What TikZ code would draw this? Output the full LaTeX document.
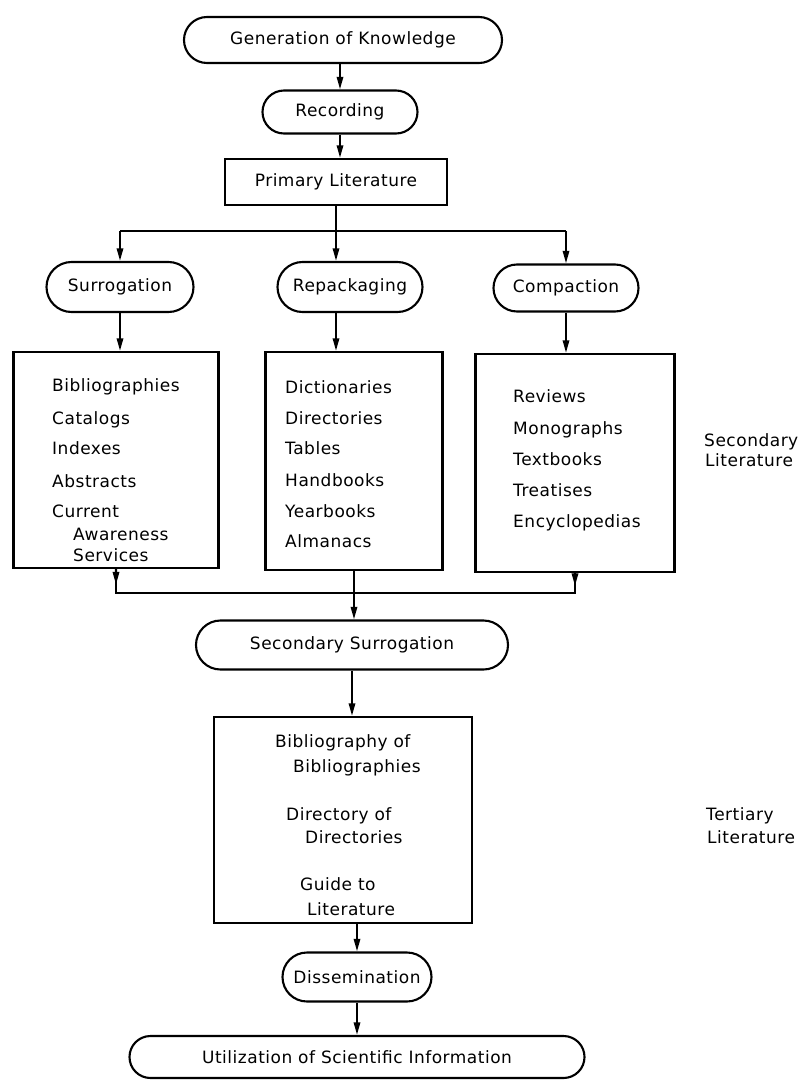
\documentclass[tikz,border=0pt]{standalone}
\usepackage{fontspec}
\setmainfont{DejaVu Sans}[LetterSpace=3]
\usetikzlibrary{shapes.misc,arrows.meta,calc}
\tikzset{
  stadium/.style={draw, line width=1.8pt, rounded rectangle, inner sep=0pt},
  litbox/.style={draw, line width=1.8pt, rectangle, inner sep=0pt},
  item/.style={anchor=base west, inner sep=0pt},
  flow/.style={line width=1.8pt, -{Triangle[length=3.8mm,width=1.9mm]}},
  link/.style={line width=1.8pt},
}
\begin{document}
\begin{tikzpicture}[x=0.03cm, y=-0.03cm, font=\fontsize{14.5}{17}\selectfont]
  \useasboundingbox (0,0) rectangle (801,1080);

  \node[stadium, minimum width=9.54cm, minimum height=1.38cm] (gen) at (343,40) {Generation of Knowledge};
  \node[stadium, minimum width=4.65cm, minimum height=1.29cm] (rec) at (340,112) {Recording};
  \node[litbox, minimum width=6.66cm, minimum height=1.38cm] (prim) at (336,182) {Primary Literature};

  \node[stadium, minimum width=4.41cm, minimum height=1.5cm] (sur) at (120,287) {Surrogation};
  \node[stadium, minimum width=4.35cm, minimum height=1.5cm] (rep) at (350,287) {Repackaging};
  \node[stadium, minimum width=4.35cm, minimum height=1.41cm] (com) at (566,288) {Compaction};

  \node[litbox, minimum width=6.15cm, minimum height=6.48cm] (surbox) at (116,460) {};
  \node[litbox, minimum width=5.31cm, minimum height=6.54cm] (repbox) at (354,461) {};
  \node[litbox, minimum width=5.97cm, minimum height=6.54cm] (combox) at (575,463) {};

  \node[stadium, minimum width=9.36cm, minimum height=1.47cm] (ssur) at (352,645) {Secondary Surrogation};
  \node[litbox, minimum width=7.74cm, minimum height=6.18cm] (terbox) at (343,820) {};
  \node[stadium, minimum width=4.47cm, minimum height=1.47cm] (dis) at (357,977) {Dissemination};
  \node[stadium, minimum width=13.65cm, minimum height=1.26cm] (uti) at (357,1057) {Utilization of Scientific Information};

  \foreach \txt/\yy [count=\i] in {Bibliographies/391, Catalogs/424, Indexes/454, Abstracts/487, Current/517}
    \node[item] (sur-\i) at (52,\yy) {\txt};
  \node[item] (sur-aw) at (73,540) {Awareness};
  \node[item] (sur-sv) at (73,561) {Services};

  \foreach \txt/\yy [count=\i] in {Dictionaries/393, Directories/424, Tables/454, Handbooks/486, Yearbooks/517, Almanacs/547}
    \node[item] (rep-\i) at (285,\yy) {\txt};

  \foreach \txt/\yy [count=\i] in {Reviews/402, Monographs/434, Textbooks/465, Treatises/496, Encyclopedias/527}
    \node[item] (com-\i) at (513,\yy) {\txt};

  \node[item] (ter-1) at (275,747) {Bibliography of};
  \node[item] (ter-2) at (293,772) {Bibliographies};
  \node[item] (ter-3) at (286,820) {Directory of};
  \node[item] (ter-4) at (305,843) {Directories};
  \node[item] (ter-5) at (300,890) {Guide to};
  \node[item] (ter-6) at (307,915) {Literature};

  \node[item] (seclit) at (704,446) {Secondary};
  \node[item] (seclit2) at (705,466) {Literature};
  \node[item] (terlit) at (706,820) {Tertiary};
  \node[item] (terlit2) at (707,843) {Literature};

  \coordinate (jt) at (342,231);
  \coordinate (jb) at (352,593);

  \draw[flow] (rec.north |- gen.south) -- (rec.north);
  \draw[flow] (rec.south) -- (rec.south |- prim.north);
  \draw[link] (sur.north |- jt) -- (com.north |- jt);
  \draw[flow] (prim.south) -- (prim.south |- rep.north);
  \draw[flow] (sur.north |- jt) -- (sur.north);
  \draw[flow] (com.north |- jt) -- (com.north);

  \draw[flow] (sur.south) -- (sur.south |- surbox.north);
  \draw[flow] (rep.south -| prim.south) -- (repbox.north -| prim.south);
  \draw[flow] (com.south) -- (com.south |- combox.north);

  \draw[link] (surbox.south) -- (surbox.south |- jb) -- (combox.south |- jb) -- (combox.south);
  \draw[flow] (surbox.south) -- ($(surbox.south)!0.65!(surbox.south |- jb)$);
  \draw[flow] (combox.south) -- ($(combox.south)!0.65!(combox.south |- jb)$);
  \draw[flow] (repbox.south) -- (repbox.south |- ssur.north);

  \draw[flow] (ssur.south) -- (ssur.south |- terbox.north);
  \draw[flow] (terbox.south -| dis.north) -- (dis.north);
  \draw[flow] (dis.south) -- (dis.south |- uti.north);
\end{tikzpicture}
\end{document}
